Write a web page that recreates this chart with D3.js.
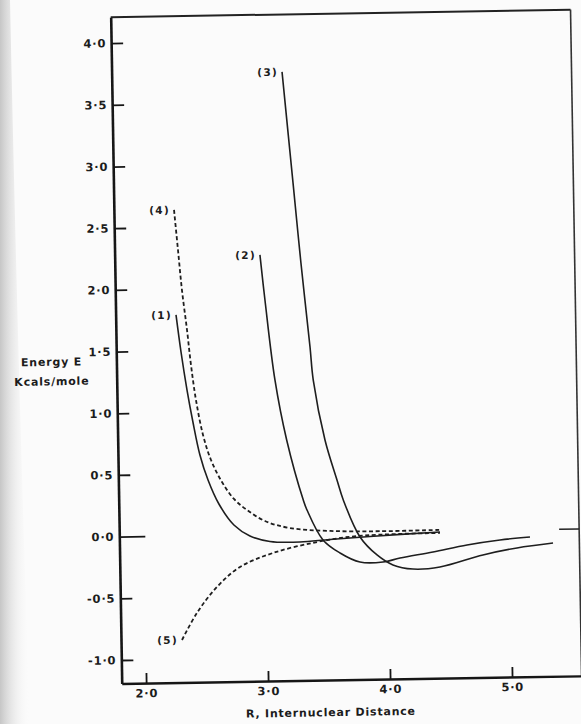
<!DOCTYPE html>
<html>
<head>
<meta charset="utf-8">
<script src="https://cdn.jsdelivr.net/npm/d3@7/dist/d3.min.js"></script>
<style>
  html, body { margin: 0; padding: 0; background: #fbfbfb; }
  svg { display: block; }
  text { font-family: "DejaVu Sans", sans-serif; font-weight: bold; fill: #1c1c1c; letter-spacing: 0.8px; }
</style>
</head>
<body>
<svg id="chart" width="581" height="724"></svg>
<script>
// ---- data (R in Å, E in kcal/mole) ----
const r1 = [2.295, 2.331, 2.375, 2.419, 2.472, 2.535, 2.621, 2.741, 2.871, 3.034, 3.280, 3.526, 3.855, 4.429];
const e1 = [1.789, 1.488, 1.179, 0.919, 0.651, 0.447, 0.251, 0.079, -0.012, -0.059, -0.068, -0.051, -0.032, -0.005];

const r2 = [2.991, 3.026, 3.097, 3.185, 3.313, 3.342, 3.469, 3.607, 3.769, 3.958, 4.098, 4.369, 4.649, 4.920, 5.166];
const e2 = [2.264, 1.898, 1.249, 0.761, 0.272, 0.191, -0.054, -0.162, -0.238, -0.241, -0.211, -0.166, -0.114, -0.078, -0.058];

const r3 = [3.197, 3.272, 3.326, 3.389, 3.411, 3.499, 3.592, 3.641, 3.773, 3.910, 4.039, 4.203, 4.424, 4.778, 5.058, 5.354];
const e3 = [3.744, 2.843, 2.193, 1.511, 1.243, 0.756, 0.430, 0.267, -0.035, -0.183, -0.266, -0.302, -0.289, -0.197, -0.145, -0.110];

const r4 = [2.293, 2.320, 2.347, 2.383, 2.411, 2.447, 2.500, 2.562, 2.649, 2.745, 2.850, 2.996, 3.200, 3.528, 3.937, 4.428];
const e4 = [2.640, 2.315, 1.990, 1.666, 1.381, 1.097, 0.813, 0.609, 0.429, 0.290, 0.199, 0.107, 0.047, 0.018, 0.009, 0.012];

const r5 = [2.300, 2.426, 2.595, 2.785, 3.057, 3.420, 3.748, 4.429];
const e5 = [-0.846, -0.629, -0.419, -0.262, -0.153, -0.070, -0.027, -0.013];

const curveLabels = ["(1)", "(2)", "(3)", "(4)", "(5)"];
const curveDashed = [false, false, false, true, true];

const xTicks = [2, 3, 4, 5];
const yTicks = [-1.0, -0.5, 0.0, 0.5, 1.0, 1.5, 2.0, 2.5, 3.0, 3.5, 4.0];
const xTitle = "R, Internuclear Distance";
const yTitle = ["Energy E", "Kcals/mole"];

// ---- layout ----
const svg = d3.select("#chart");
const plot = { left: 116.4, right: 576.3, top: 13.5, bottom: 679.8 };

// page-edge shading of the scan
const defs = svg.append("defs");
const grad = defs.append("linearGradient").attr("id", "edge").attr("x1", 0).attr("x2", 1).attr("y1", 0).attr("y2", 0);
grad.append("stop").attr("offset", "0%").attr("stop-color", "#b4b4b4");
grad.append("stop").attr("offset", "100%").attr("stop-color", "#fbfbfb").attr("stop-opacity", 0);
svg.append("path")
  .attr("d", "M0,0 L10,0 Q18,380 30,724 L0,724 Z")
  .attr("fill", "url(#edge)").attr("opacity", 0.75);

const g = svg.append("g").attr("transform", "rotate(-0.95, 340, 360)");

const x = d3.scaleLinear().domain([1.8, 5.57]).range([plot.left, plot.right]);
const y = d3.scaleLinear().domain([-1.19, 4.21]).range([plot.bottom, plot.top]);

const fmt = v => d3.format(".1f")(v).replace(".", "·").replace("−", "-");

// frame (top and right)
g.append("line").attr("x1", plot.left).attr("x2", plot.right).attr("y1", plot.top).attr("y2", plot.top)
  .attr("stroke", "#222").attr("stroke-width", 2);
g.append("line").attr("x1", plot.right).attr("x2", plot.right).attr("y1", plot.top).attr("y2", plot.bottom)
  .attr("stroke", "#333").attr("stroke-width", 1.6);
// right-side zero tick
g.append("line").attr("x1", plot.right - 20).attr("x2", plot.right).attr("y1", y(0)).attr("y2", y(0))
  .attr("stroke", "#222").attr("stroke-width", 1.5);

// y axis
const yAxis = g.append("g").attr("transform", `translate(${plot.left},0)`)
  .call(d3.axisLeft(y).tickValues(yTicks).tickFormat(fmt).tickSizeInner(-12).tickSizeOuter(0).tickPadding(5));
yAxis.select(".domain").attr("stroke", "#161616").attr("stroke-width", 2.6);
yAxis.selectAll(".tick line").attr("stroke", "#161616").attr("stroke-width", 1.8)
  .filter(d => d === 0).attr("x2", 26);
yAxis.selectAll(".tick text").attr("font-size", 11.5).attr("font-family", null).attr("fill", "#1c1c1c");

// x axis
const xAxis = g.append("g").attr("transform", `translate(0,${plot.bottom})`)
  .call(d3.axisBottom(x).tickValues(xTicks).tickFormat(fmt).tickSizeInner(-10).tickSizeOuter(0).tickPadding(6));
xAxis.select(".domain").attr("stroke", "#161616").attr("stroke-width", 2.4);
xAxis.selectAll(".tick line").attr("stroke", "#161616").attr("stroke-width", 1.8);
xAxis.selectAll(".tick text").attr("font-size", 11.5).attr("font-family", null).attr("fill", "#1c1c1c");

// titles
g.append("text").attr("x", 325).attr("y", 716).attr("text-anchor", "middle").attr("font-size", 11).text(xTitle);
g.append("text").attr("x", 51.5).attr("y", 361).attr("text-anchor", "middle").attr("font-size", 11).text(yTitle[0]);
g.append("text").attr("x", 51.5).attr("y", 380.5).attr("text-anchor", "middle").attr("font-size", 11).text(yTitle[1]);

// curves
const series = [[r1, e1], [r2, e2], [r3, e3], [r4, e4], [r5, e5]];
const line = d3.line().x(d => x(d[0])).y(d => y(d[1])).curve(d3.curveCatmullRom.alpha(0.5));

series.forEach(([rs, es], i) => {
  const pts = rs.map((r, k) => [r, es[k]]);
  g.append("path").datum(pts)
    .attr("d", line)
    .attr("fill", "none")
    .attr("stroke", "#1e1e1e")
    .attr("stroke-width", curveDashed[i] ? 1.8 : 1.6)
    .attr("stroke-dasharray", curveDashed[i] ? "4,2.6" : null);
  g.append("text")
    .attr("x", x(pts[0][0]) - 4)
    .attr("y", y(pts[0][1]))
    .attr("dy", "0.35em")
    .attr("text-anchor", "end")
    .attr("font-size", 10.5)
    .style("letter-spacing", "1.3px")
    .text(curveLabels[i]);
});
</script>
</body>
</html>
